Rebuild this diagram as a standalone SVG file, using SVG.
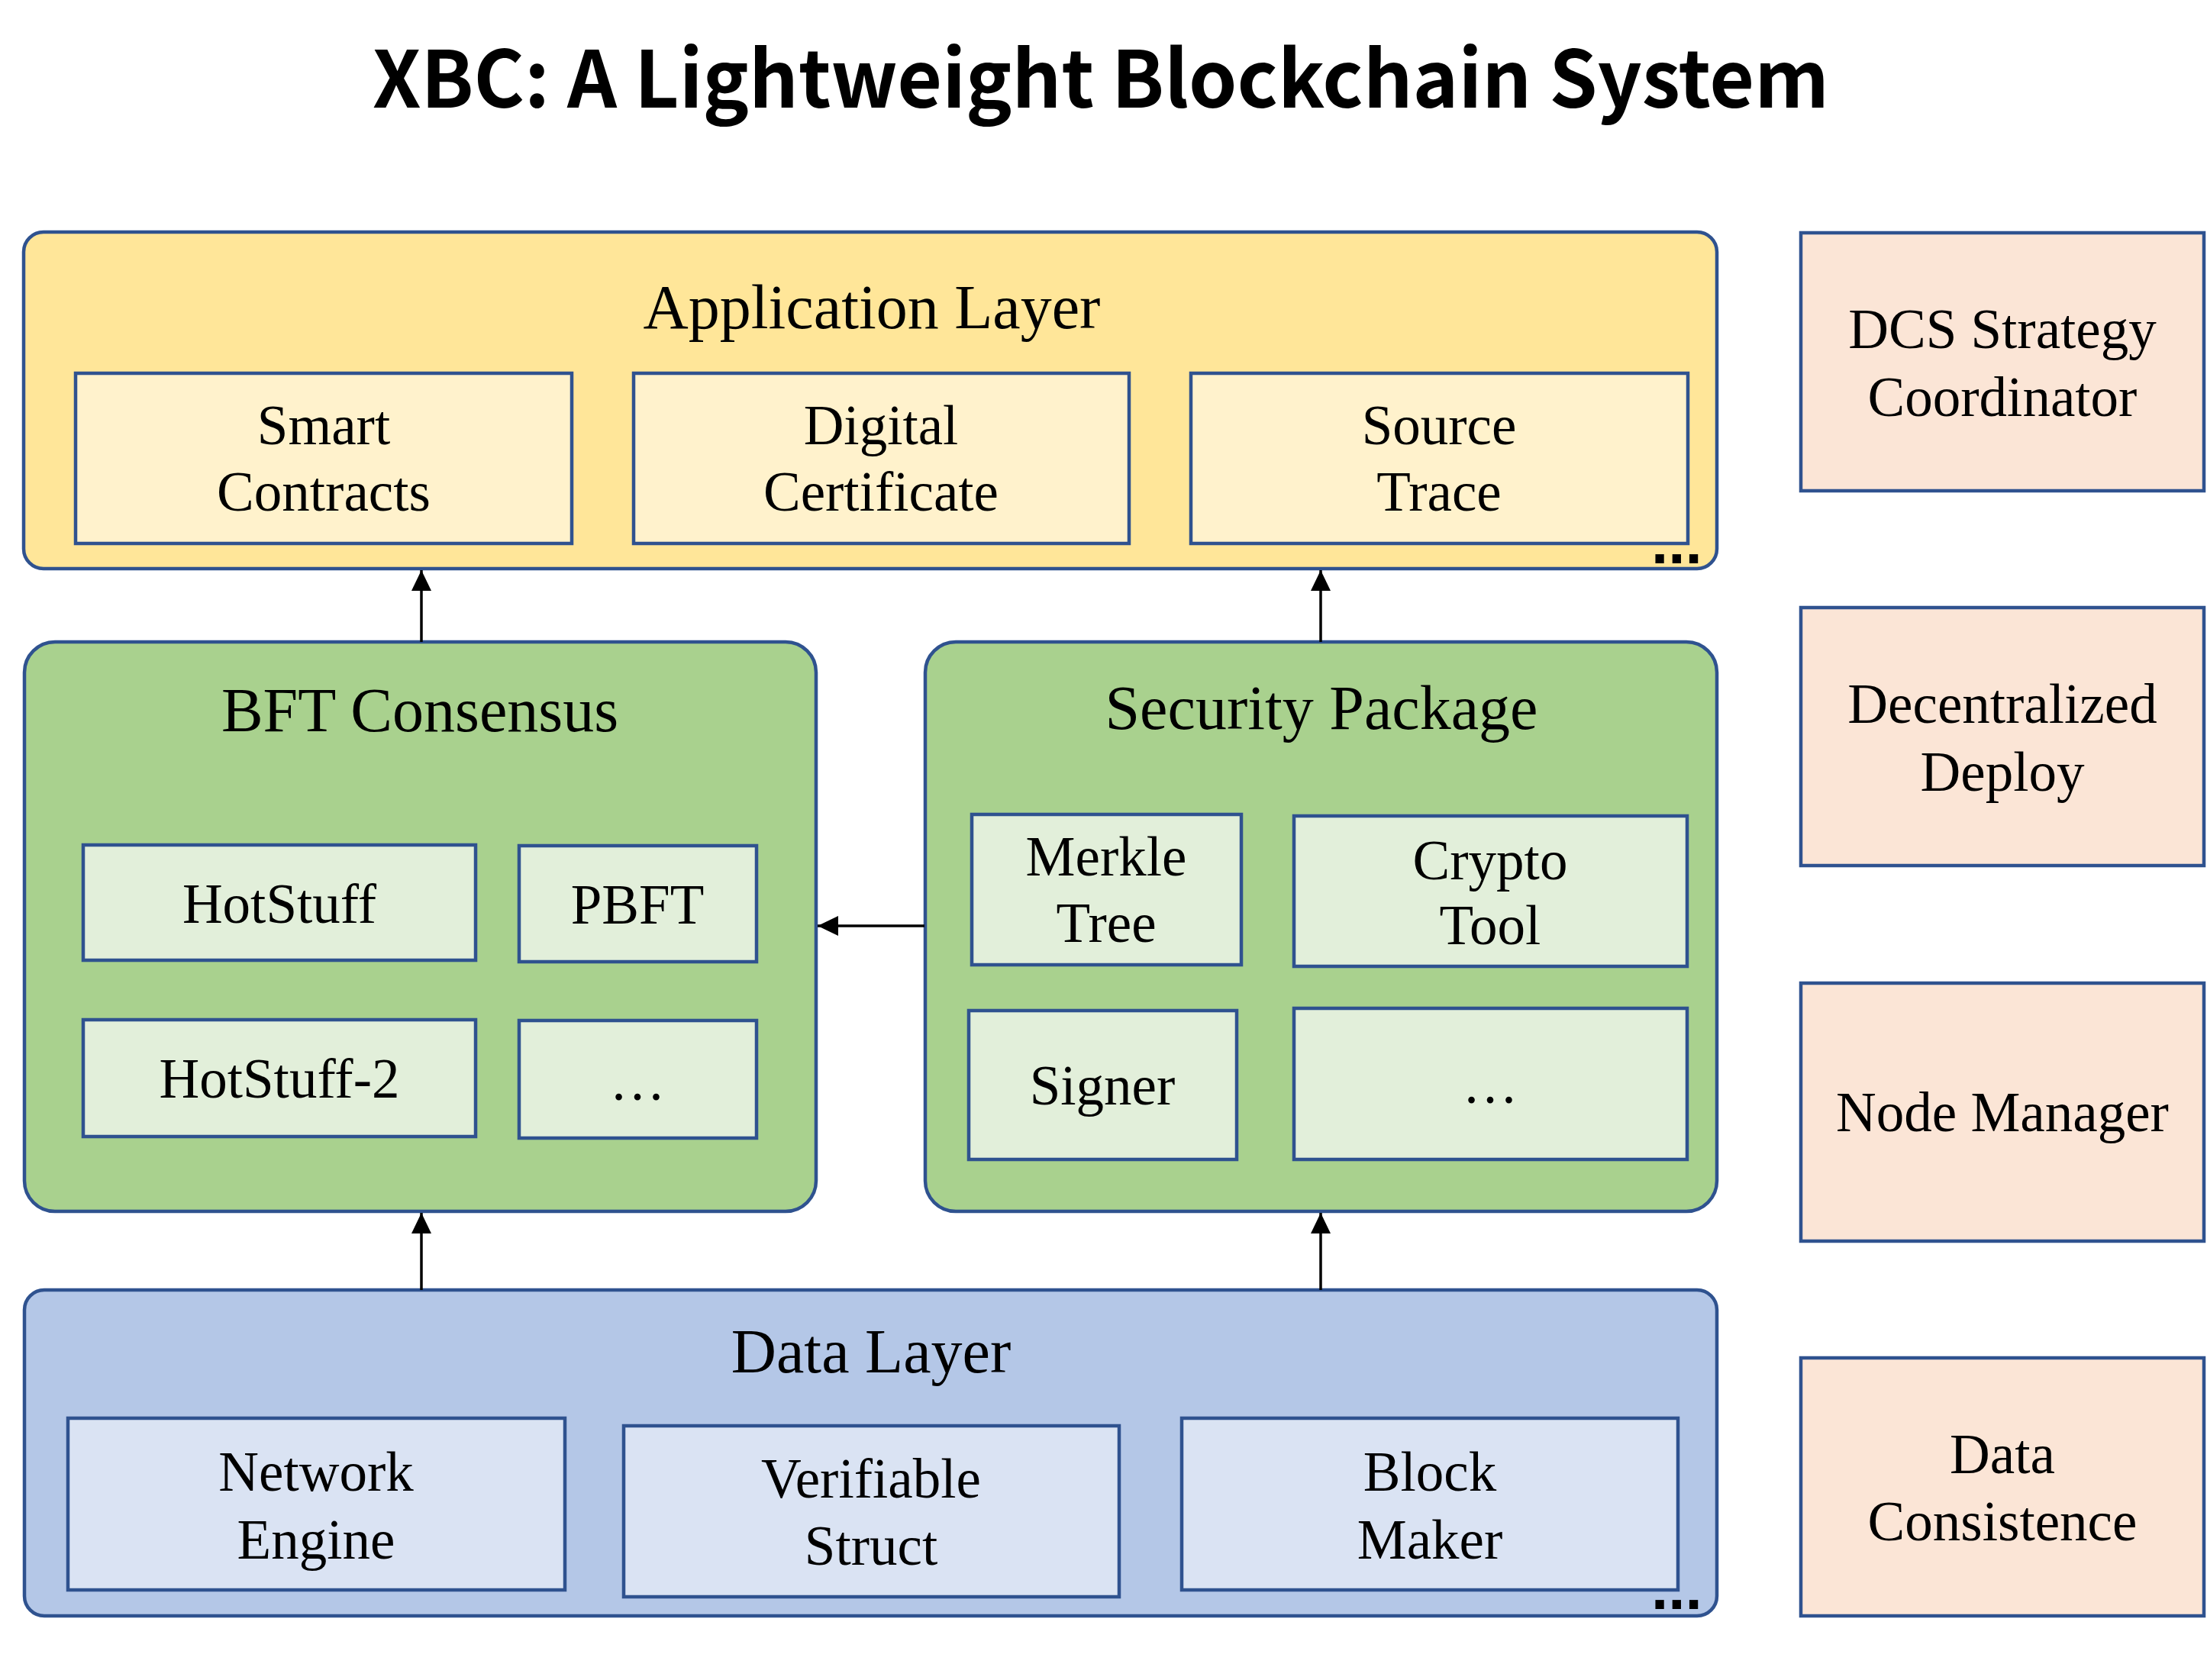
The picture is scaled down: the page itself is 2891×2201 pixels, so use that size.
<svg xmlns="http://www.w3.org/2000/svg" width="2891" height="2201" viewBox="0 0 2891 2201">
<style>
.lay{stroke:#2F528F;stroke-width:4.5}
.box{stroke:#2F528F;stroke-width:4.5}
.app{fill:#FFE699}.appi{fill:#FFF2CC}
.grn{fill:#A9D18E}.grni{fill:#E2EFDA}
.blu{fill:#B4C7E7}.blui{fill:#DAE3F3}
.side{fill:#FBE5D6}
.t{font-family:"Liberation Serif","Times New Roman",serif;fill:#000;text-anchor:middle}
.h{font-size:82px}
.s{font-size:73px}
.dots{font-family:"Liberation Sans",Arial,sans-serif;font-weight:bold;font-size:80px;fill:#000}
.con{stroke:#000;stroke-width:3.5;fill:none}
</style>
<defs>
<marker id="arr" markerUnits="userSpaceOnUse" viewBox="0 0 27 26" refX="27" refY="13" markerWidth="27" markerHeight="26" orient="auto">
<path d="M0,0 L27,13 L0,26 z" fill="#000"/>
</marker>
</defs>
<rect width="2891" height="2201" fill="#fff"/>
<text x="1442" y="141" font-family="'Noto Sans CJK SC','Liberation Sans',Arial,sans-serif" font-weight="bold" font-size="103" text-anchor="middle" textLength="1908" lengthAdjust="spacingAndGlyphs">XBC: A Lightweight Blockchain System</text>

<g id="application-layer">
<rect class="lay app" x="31" y="304" width="2218" height="441" rx="26" ry="26"/>
<text class="t h" x="1142" y="430">Application Layer</text>
<text class="dots" x="2163" y="738">...</text>
</g>
<g id="smart-contracts">
<rect class="box appi" x="99" y="489" width="650" height="223"/>
<text class="t s" x="424" y="582">Smart</text>
<text class="t s" x="424" y="669">Contracts</text>
</g>
<g id="digital-certificate">
<rect class="box appi" x="830" y="489" width="649" height="223"/>
<text class="t s" x="1154" y="582">Digital</text>
<text class="t s" x="1154" y="669">Certificate</text>
</g>
<g id="source-trace">
<rect class="box appi" x="1560" y="489" width="651" height="223"/>
<text class="t s" x="1885" y="582">Source</text>
<text class="t s" x="1885" y="669">Trace</text>
</g>

<g id="bft-consensus">
<rect class="lay grn" x="32" y="841" width="1037" height="746" rx="40" ry="40"/>
<text class="t h" x="550" y="958">BFT Consensus</text>
</g>
<g id="hotstuff">
<rect class="box grni" x="109" y="1107" width="514" height="151"/>
<text class="t s" x="366" y="1209">HotStuff</text>
</g>
<g id="pbft">
<rect class="box grni" x="680" y="1108" width="311" height="152"/>
<text class="t s" x="835" y="1210">PBFT</text>
</g>
<g id="hotstuff-2">
<rect class="box grni" x="109" y="1336" width="514" height="153"/>
<text class="t s" x="366" y="1438">HotStuff-2</text>
</g>
<g id="bft-more">
<rect class="box grni" x="680" y="1337" width="311" height="154"/>
<text class="t s" x="835" y="1441">…</text>
</g>

<g id="security-package">
<rect class="lay grn" x="1212" y="841" width="1037" height="746" rx="40" ry="40"/>
<text class="t h" x="1731" y="955">Security Package</text>
</g>
<g id="merkle-tree">
<rect class="box grni" x="1273" y="1067" width="353" height="197"/>
<text class="t s" x="1449" y="1147">Merkle</text>
<text class="t s" x="1449" y="1234">Tree</text>
</g>
<g id="crypto-tool">
<rect class="box grni" x="1695" y="1069" width="515" height="197"/>
<text class="t s" x="1952" y="1152">Crypto</text>
<text class="t s" x="1952" y="1237">Tool</text>
</g>
<g id="signer">
<rect class="box grni" x="1269" y="1324" width="351" height="195"/>
<text class="t s" x="1444" y="1447">Signer</text>
</g>
<g id="security-more">
<rect class="box grni" x="1695" y="1321" width="515" height="198"/>
<text class="t s" x="1952" y="1445">…</text>
</g>

<g id="data-layer">
<rect class="lay blu" x="32" y="1690" width="2217" height="427" rx="26" ry="26"/>
<text class="t h" x="1141" y="1798">Data Layer</text>
<text class="dots" x="2163" y="2108">...</text>
</g>
<g id="network-engine">
<rect class="box blui" x="89" y="1858" width="651" height="225"/>
<text class="t s" x="414" y="1953">Network</text>
<text class="t s" x="414" y="2042">Engine</text>
</g>
<g id="verifiable-struct">
<rect class="box blui" x="817" y="1868" width="649" height="224"/>
<text class="t s" x="1141" y="1962">Verifiable</text>
<text class="t s" x="1141" y="2050">Struct</text>
</g>
<g id="block-maker">
<rect class="box blui" x="1548" y="1858" width="650" height="225"/>
<text class="t s" x="1873" y="1953">Block</text>
<text class="t s" x="1873" y="2042">Maker</text>
</g>

<g id="dcs-strategy-coordinator">
<rect class="box side" x="2359" y="305" width="528" height="338"/>
<text class="t s" x="2623" y="456">DCS Strategy</text>
<text class="t s" x="2623" y="545">Coordinator</text>
</g>
<g id="decentralized-deploy">
<rect class="box side" x="2359" y="796" width="528" height="338"/>
<text class="t s" x="2623" y="947">Decentralized</text>
<text class="t s" x="2623" y="1036">Deploy</text>
</g>
<g id="node-manager">
<rect class="box side" x="2359" y="1288" width="528" height="338"/>
<text class="t s" x="2623" y="1482">Node Manager</text>
</g>
<g id="data-consistence">
<rect class="box side" x="2359" y="1779" width="528" height="338"/>
<text class="t s" x="2623" y="1930">Data</text>
<text class="t s" x="2623" y="2018">Consistence</text>
</g>

<g id="connectors">
<path class="con" d="M552,841 L552,747" marker-end="url(#arr)"/>
<path class="con" d="M1730,841 L1730,747" marker-end="url(#arr)"/>
<path class="con" d="M1211,1213 L1071,1213" marker-end="url(#arr)"/>
<path class="con" d="M552,1690 L552,1589" marker-end="url(#arr)"/>
<path class="con" d="M1730,1690 L1730,1589" marker-end="url(#arr)"/>
</g>
</svg>
